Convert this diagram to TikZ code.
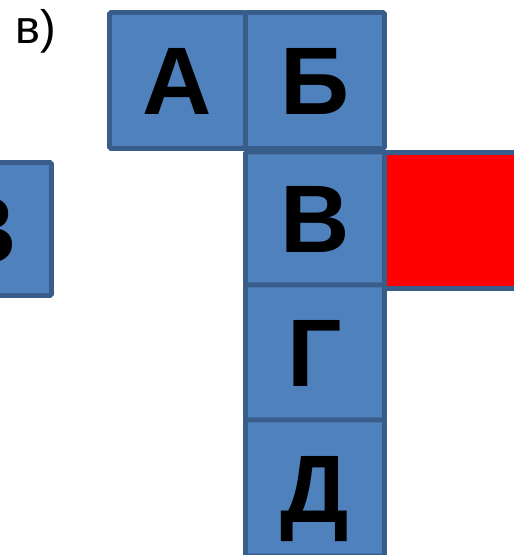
\documentclass[tikz,border=0pt]{standalone}
\usepackage{fontspec}
\setmainfont{Liberation Sans}
\newfontfamily\cellfont{Liberation Sans}
\definecolor{cellfill}{HTML}{4F81BD}
\definecolor{celledge}{HTML}{385D8A}
\definecolor{redfill}{HTML}{FF0000}
\begin{document}
\begin{tikzpicture}[x=1pt,y=-1pt,
  cell/.style={draw=celledge, fill=cellfill, line width=4.8pt, rounded corners=1.5pt,
    inner sep=0pt, text height=68.7pt, text depth=0pt,
    font=\cellfont\bfseries\fontsize{96}{96}\selectfont},
  redcell/.style={cell, fill=redfill}]
\useasboundingbox (0,0) rectangle (514,555);
\clip (0,0) rectangle (514,555);
\node[cell, minimum width=136pt, minimum height=136pt] (a) at (177.5,80.5) {А};
\node[cell, minimum width=139pt, minimum height=136pt] (b) at (315,80.5) {Б};
\node[cell, minimum width=139pt, minimum height=133pt] (v) at (315,218.5) {В};
\node[redcell, minimum width=138pt, minimum height=136pt] (r) at (453.5,220.5) {};
\node[cell, minimum width=139pt, minimum height=135pt] (g) at (315,352.5) {Г};
\node[cell, minimum width=139pt, minimum height=136pt] (d) at (315,488) {Д};
\node[cell, minimum width=139pt, minimum height=133pt] (left) at (-18,229) {В};
\node[anchor=base west, inner sep=0pt, font=\fontsize{47}{47}\selectfont] (lbl) at (15,43) {в)};
\end{tikzpicture}
\end{document}
